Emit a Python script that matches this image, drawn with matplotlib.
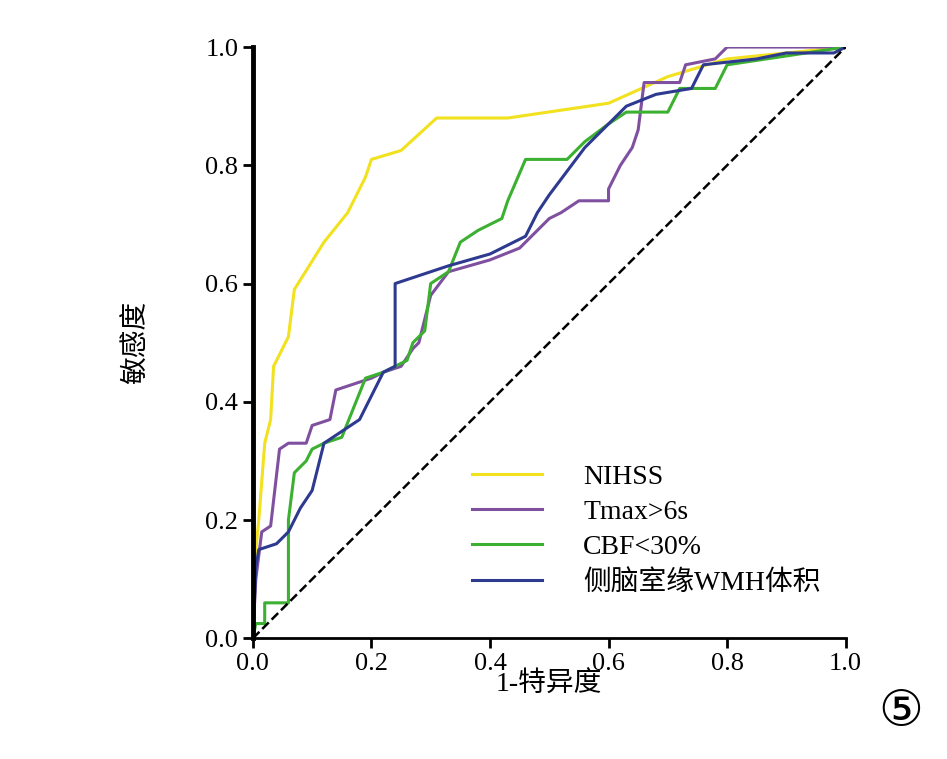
import matplotlib.pyplot as plt

plt.rcParams['font.family'] = ['Liberation Serif', 'Noto Sans CJK SC']

curves = {
    'NIHSS': ('#F2E11E',
              [0, 0, 0.01, 0.02, 0.03, 0.035, 0.06, 0.07, 0.12, 0.16, 0.19, 0.2, 0.25, 0.31, 0.43, 0.6, 0.7, 0.8, 1],
              [0, 0.1, 0.2, 0.33, 0.37, 0.46, 0.51, 0.59, 0.67, 0.72, 0.78, 0.81, 0.825, 0.88, 0.88, 0.905, 0.95, 0.98, 1]),
    'Tmax>6s': ('#8050A0',
                [0, 0.005, 0.015, 0.03, 0.045, 0.06, 0.09, 0.1, 0.13, 0.14, 0.17, 0.2, 0.22, 0.25, 0.27, 0.28, 0.3, 0.33,
                 0.4, 0.45, 0.47, 0.5, 0.52, 0.55, 0.6, 0.6, 0.62, 0.64, 0.65, 0.66, 0.72, 0.73, 0.78, 0.8, 1],
                [0, 0.1, 0.18, 0.19, 0.32, 0.33, 0.33, 0.36, 0.37, 0.42, 0.43, 0.44, 0.45, 0.46, 0.49, 0.5, 0.58, 0.62,
                 0.64, 0.66, 0.68, 0.71, 0.72, 0.74, 0.74, 0.76, 0.8, 0.83, 0.86, 0.94, 0.94, 0.97, 0.98, 1, 1]),
    'CBF<30%': ('#3CB030',
                [0, 0.005, 0.02, 0.02, 0.06, 0.06, 0.07, 0.09, 0.1, 0.12, 0.15, 0.19, 0.22, 0.26, 0.27, 0.29, 0.3, 0.33,
                 0.35, 0.38, 0.42, 0.43, 0.46, 0.53, 0.56, 0.6, 0.63, 0.7, 0.72, 0.78, 0.8, 1],
                [0, 0.025, 0.025, 0.06, 0.06, 0.2, 0.28, 0.3, 0.32, 0.33, 0.34, 0.44, 0.45, 0.47, 0.5, 0.52, 0.6, 0.62,
                 0.67, 0.69, 0.71, 0.74, 0.81, 0.81, 0.84, 0.87, 0.89, 0.89, 0.93, 0.93, 0.97, 1]),
    '侧脑室缘WMH体积': ('#2E3A90',
                  [0, 0.005, 0.01, 0.04, 0.06, 0.08, 0.1, 0.12, 0.15, 0.18, 0.2, 0.22, 0.24, 0.24, 0.27, 0.3, 0.33,
                   0.4, 0.46, 0.48, 0.5, 0.53, 0.56, 0.59, 0.63, 0.68, 0.74, 0.76, 0.85, 0.9, 0.98, 1],
                  [0, 0.12, 0.15, 0.16, 0.18, 0.22, 0.25, 0.33, 0.35, 0.37, 0.41, 0.45, 0.46, 0.6, 0.61, 0.62, 0.63,
                   0.65, 0.68, 0.72, 0.75, 0.79, 0.83, 0.86, 0.9, 0.92, 0.93, 0.97, 0.98, 0.99, 0.99, 1]),
}

fig = plt.figure(figsize=(9.47, 7.59), dpi=100)
ax = fig.add_axes([0.267, 0.159, 0.626, 0.779])
for name, (color, x, y) in curves.items():
    ax.plot(x, y, color=color, lw=2.2, label=name)
ax.plot([0, 1], [0, 1], 'k--', lw=1.8)

ax.set_xlim(0, 1)
ax.set_ylim(0, 1)
ax.set_xticks([0, 0.2, 0.4, 0.6, 0.8, 1.0])
ax.set_yticks([0, 0.2, 0.4, 0.6, 0.8, 1.0])
ax.set_xticklabels(['0.0', '0.2', '0.4', '0.6', '0.8', '1.0'])
ax.set_yticklabels(['0.0', '0.2', '0.4', '0.6', '0.8', '1.0'])
ax.tick_params(labelsize=19, width=2, length=7)
ax.spines['top'].set_visible(False)
ax.spines['right'].set_visible(False)
ax.spines['left'].set_linewidth(3.5)
ax.spines['bottom'].set_linewidth(2)
ax.set_xlabel('1-特异度', fontsize=20, labelpad=-2)
ax.set_ylabel('敏感度', fontsize=20, labelpad=40)

ax.legend(loc='lower right', bbox_to_anchor=(1.0, 0.03), frameon=False, fontsize=20,
          handlelength=2.5, handletextpad=1.5, labelspacing=0.35)

fig.text(0.975, 0.03, '⑤', fontsize=36, family='DejaVu Sans', ha='right', va='bottom')
fig.savefig('out.png')
